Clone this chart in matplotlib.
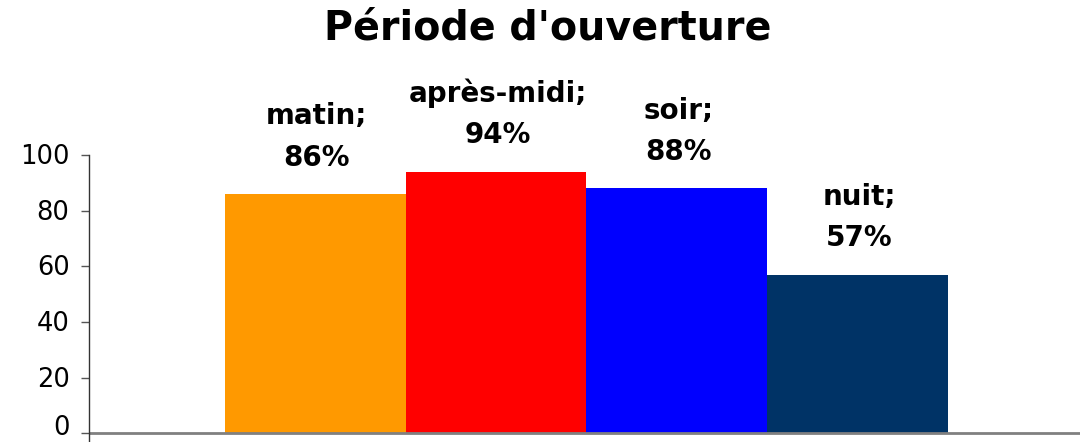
import matplotlib.pyplot as plt
from matplotlib.transforms import ScaledTranslation

categories = ["matin", "après-midi", "soir", "nuit"]
values = [86, 94, 88, 57]
colors = ["#FF9900", "#FF0000", "#0000FF", "#003366"]
yticks = [0, 20, 40, 60, 80, 100]

plt.rcParams['font.family'] = ['DejaVu Sans']

fig = plt.figure(figsize=(10.8, 4.42), dpi=100)
ax = fig.add_axes([89 / 1080, 1 - 441 / 442, 1 - 89 / 1080, 286 / 442])

x = list(range(len(values)))
ax.bar(x, values, width=1.0, color=colors)

for xi, v, name in zip(x, values, categories):
    ax.annotate(f"{name};\n{v}%", (xi, v), xytext=(1, 16), textcoords="offset points",
                ha="center", va="bottom", fontsize=20, fontweight="bold",
                linespacing=1.62)

ax.set_xlim(-1.252, 4.23)
ax.set_ylim(-2.8, 100)
ax.set_yticks(yticks)
ax.set_xticks([])
ax.tick_params(axis="y", labelsize=18.5, length=6, width=1, color="#555555", pad=8)
# the "0" label sits a bit above its tick in the original
for t, lab in zip(yticks, ax.get_yticklabels()):
    dy = 8 if t == 0 else 1
    lab.set_transform(lab.get_transform() + ScaledTranslation(0, dy / 100, fig.dpi_scale_trans))
for s in ["top", "right", "bottom"]:
    ax.spines[s].set_visible(False)
ax.spines["left"].set_color("#333333")
ax.spines["left"].set_linewidth(1)
ax.axhline(0, color="#808080", lw=2)

fig.text(548 / 1080, 1 - 28 / 442, "Période d'ouverture", ha="center", va="center",
         fontsize=28.5, fontweight="bold")

fig.savefig("out.png", dpi=100)
